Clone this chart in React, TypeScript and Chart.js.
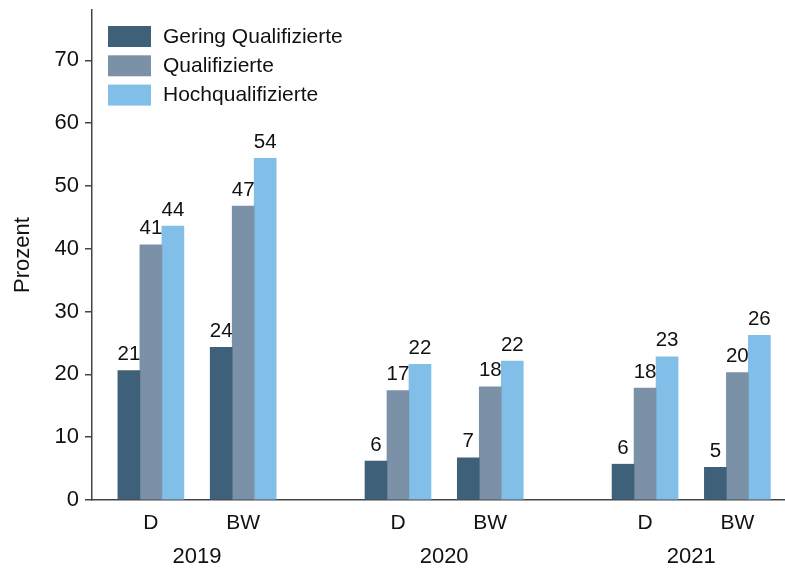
import React, { useEffect, useRef } from "react";
import { Chart, registerables } from "chart.js";

Chart.register(...registerables);

const years = ["2019", "2020", "2021"];
const regions = ["D", "BW"];
const seriesNames = ["Gering Qualifizierte", "Qualifizierte", "Hochqualifizierte"];
// order: 2019 D, 2019 BW, 2020 D, 2020 BW, 2021 D, 2021 BW
const geringValues = [20.6, 24.3, 6.2, 6.7, 5.7, 5.2];
const qualValues = [40.6, 46.8, 17.4, 18.0, 17.8, 20.3];
const hochValues = [43.6, 54.4, 21.6, 22.1, 22.8, 26.2];
const yTicks = [0, 10, 20, 30, 40, 50, 60, 70];

const colors = ["#3e6179", "#7b91a7", "#82bfe8"];
const FONT = "'Liberation Sans', Arial, sans-serif";
const YEAR_GAP = 1.677; // spacing between the last region of a year and the next year's first region

function groupPositions(): number[] {
  const pos: number[] = [];
  let x = 0;
  years.forEach((_, yi) => {
    regions.forEach((_, ri) => {
      pos.push(x);
      x += ri < regions.length - 1 ? 1 : YEAR_GAP;
    });
  });
  return pos;
}

export default function App() {
  const ref = useRef<HTMLCanvasElement>(null);
  useEffect(() => {
    if (!ref.current) return;
    const xs = groupPositions();
    const all = [geringValues, qualValues, hochValues];
    const datasets = all.map((vals, i) => ({
      label: seriesNames[i],
      data: xs.map((x, j) => ({ x, y: vals[j] })),
      backgroundColor: colors[i],
      barThickness: 22,
    }));

    const labelPlugin = {
      id: "custom",
      afterDatasetsDraw(chart: any) {
        const ctx = chart.ctx;
        ctx.save();
        ctx.fillStyle = "#111";
        ctx.font = `20.5px ${FONT}`;
        ctx.textAlign = "center";
        ctx.textBaseline = "alphabetic";
        chart.data.datasets.forEach((ds: any, di: number) => {
          const meta = chart.getDatasetMeta(di);
          meta.data.forEach((el: any, j: number) => {
            ctx.fillText(String(Math.round(ds.data[j].y)), el.x, el.y - 10.5);
          });
        });
        // x labels
        const xs2 = chart.scales.x;
        const bottom = chart.chartArea.bottom;
        ctx.font = `21px ${FONT}`;
        ctx.textBaseline = "middle";
        years.forEach((yr, yi) => {
          let sum = 0;
          regions.forEach((rg, ri) => {
            const p = xs2.getPixelForValue(xs[yi * regions.length + ri]);
            sum += p;
            ctx.fillText(rg, p, bottom + 23);
          });
          ctx.font = `22px ${FONT}`;
          ctx.fillText(yr, sum / regions.length, bottom + 57);
          ctx.font = `21px ${FONT}`;
        });
        // legend
        const left = chart.chartArea.left;
        const top = chart.chartArea.top;
        ctx.textAlign = "left";
        ctx.font = `21px ${FONT}`;
        seriesNames.forEach((n, i) => {
          const y = top + 16 + i * 29.3;
          ctx.fillStyle = colors[i];
          ctx.fillRect(left + 16, y, 43, 21);
          ctx.fillStyle = "#111";
          ctx.fillText(n, left + 71, y + 11);
        });
        ctx.restore();
      },
    };

    const chart = new Chart(ref.current, {
      type: "bar",
      data: { datasets },
      plugins: [labelPlugin],
      options: {
        animation: false,
        responsive: true,
        maintainAspectRatio: false,
        layout: { padding: { top: 10, right: 0, left: 0, bottom: 0 } },
        plugins: { legend: { display: false }, tooltip: { enabled: false } },
        scales: {
          x: {
            type: "linear",
            offset: false,
            min: -0.638,
            max: 6.87,
            afterBuildTicks: (s: any) => {
              s.ticks = xs.map((v) => ({ value: v }));
            },
            afterFit: (s: any) => {
              s.height = 70;
              s.paddingLeft = 0;
              s.paddingRight = 0;
            },
            ticks: { display: false },
            grid: { display: false },
            border: { display: true, color: "#444", width: 1.5 },
          },
          y: {
            min: 0,
            max: 78,
            afterBuildTicks: (s: any) => {
              s.ticks = yTicks.map((v) => ({ value: v }));
            },
            afterFit: (s: any) => {
              s.width = 92;
              s.paddingTop = 0;
              s.paddingBottom = 0;
            },
            ticks: { color: "#111", font: { size: 22, family: FONT }, padding: 6 },
            grid: { display: true, drawOnChartArea: false, drawTicks: true, tickLength: 7, color: "#444", lineWidth: 1.5 },
            border: { display: true, color: "#444", width: 1.5 },
            title: {
              display: true,
              text: "Prozent",
              color: "#111",
              font: { size: 22, family: FONT },
              padding: { top: 10, bottom: 0 },
            },
          },
        },
      },
    });
    return () => chart.destroy();
  }, []);
  return (
    <div style={{ position: "fixed", left: 0, top: 0, width: 785, height: 570, background: "#fff" }}>
      <canvas ref={ref} />
    </div>
  );
}
